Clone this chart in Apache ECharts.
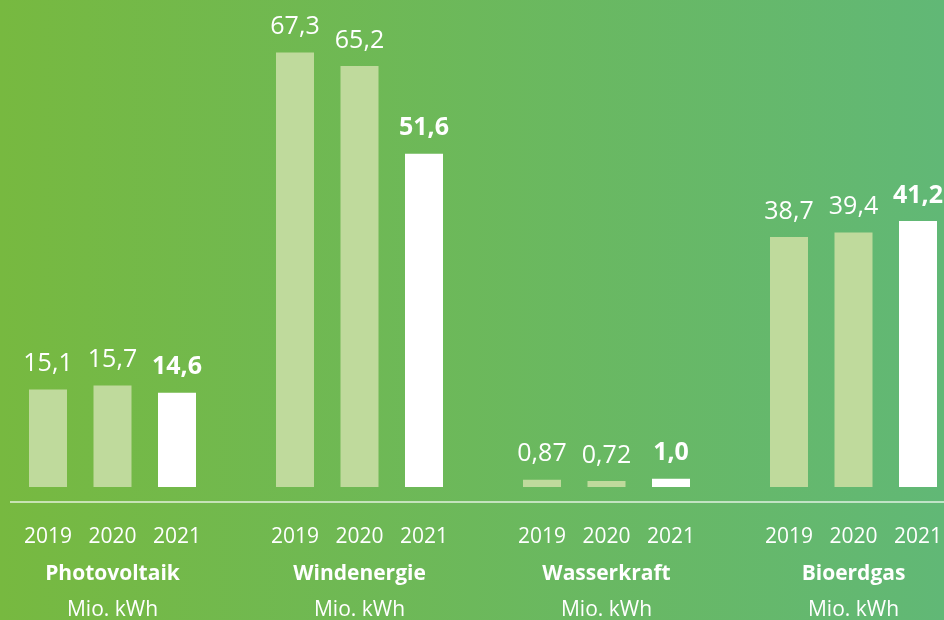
<!DOCTYPE html>
<html>
<head>
<meta charset="utf-8">
<script src="https://cdn.jsdelivr.net/npm/echarts@6/dist/echarts.min.js"></script>
<style>
html,body{margin:0;padding:0;}
#c{width:944px;height:620px;}
</style>
</head>
<body>
<div id="c"></div>
<script>
const categories = ['Photovoltaik', 'Windenergie', 'Wasserkraft', 'Bioerdgas'];
const unit = 'Mio. kWh';
const years = ['2019', '2020', '2021'];
const v2019 = [15.1, 67.3, 0.87, 38.7];
const v2020 = [15.7, 65.2, 0.72, 39.4];
const v2021 = [14.6, 51.6, 1.0, 41.2];

const FONT = '"Open Sans", "Noto Sans", sans-serif';
const lightBar = '#bfda9c';
const fmt = v => v.toLocaleString('de-DE', {minimumFractionDigits: 1, maximumFractionDigits: 2});

const grids = [], xAxes = [], yAxes = [], series = [];
categories.forEach((cat, i) => {
  grids.push({left: 15.75 + 247 * i, width: 193.5, top: 35, bottom: 133, outerBoundsMode: 'none', containLabel: false});
  xAxes.push({
    type: 'category', gridIndex: i, data: years,
    axisLine: {show: false}, axisTick: {show: false},
    axisLabel: {color: '#fff', fontSize: 21, fontFamily: FONT, margin: 40, interval: 0, hideOverlap: false},
    name: '{b|' + cat + '}\n{u|' + unit + '}',
    nameLocation: 'middle', nameGap: 69,
    nameTextStyle: {
      color: '#fff', fontFamily: FONT,
      rich: {
        b: {color: '#fff', fontSize: 21, fontWeight: 'bold', fontFamily: FONT, lineHeight: 36},
        u: {color: '#fff', fontSize: 21, fontFamily: FONT, lineHeight: 36}
      }
    }
  });
  yAxes.push({
    type: 'value', gridIndex: i, min: 0, max: i === 2 ? 54 : 70,
    show: false, splitLine: {show: false}
  });
  const vals = [v2019[i], v2020[i], v2021[i]];
  series.push({
    type: 'bar', xAxisIndex: i, yAxisIndex: i, barWidth: 38,
    data: vals.map((v, k) => ({
      value: v,
      itemStyle: {color: k === 2 ? '#ffffff' : lightBar},
      label: {fontWeight: k === 2 ? 'bold' : 'normal'}
    })),
    label: {
      show: true, position: 'top', distance: 13,
      color: '#fff', fontSize: 25, fontFamily: FONT,
      formatter: p => fmt(p.value)
    },
    emphasis: {disabled: true}
  });
});

const chart = echarts.init(document.getElementById('c'));
chart.setOption({
  animation: false,
  backgroundColor: new echarts.graphic.LinearGradient(0, 0, 1, 0, [
    {offset: 0, color: '#77b940'},
    {offset: 1, color: '#61b876'}
  ]),
  grid: grids, xAxis: xAxes, yAxis: yAxes, series: series,
  graphic: [{
    type: 'line', shape: {x1: 10, y1: 502, x2: 944, y2: 502},
    style: {stroke: 'rgba(255,255,255,0.8)', lineWidth: 1.5}
  }]
});
</script>
</body>
</html>
